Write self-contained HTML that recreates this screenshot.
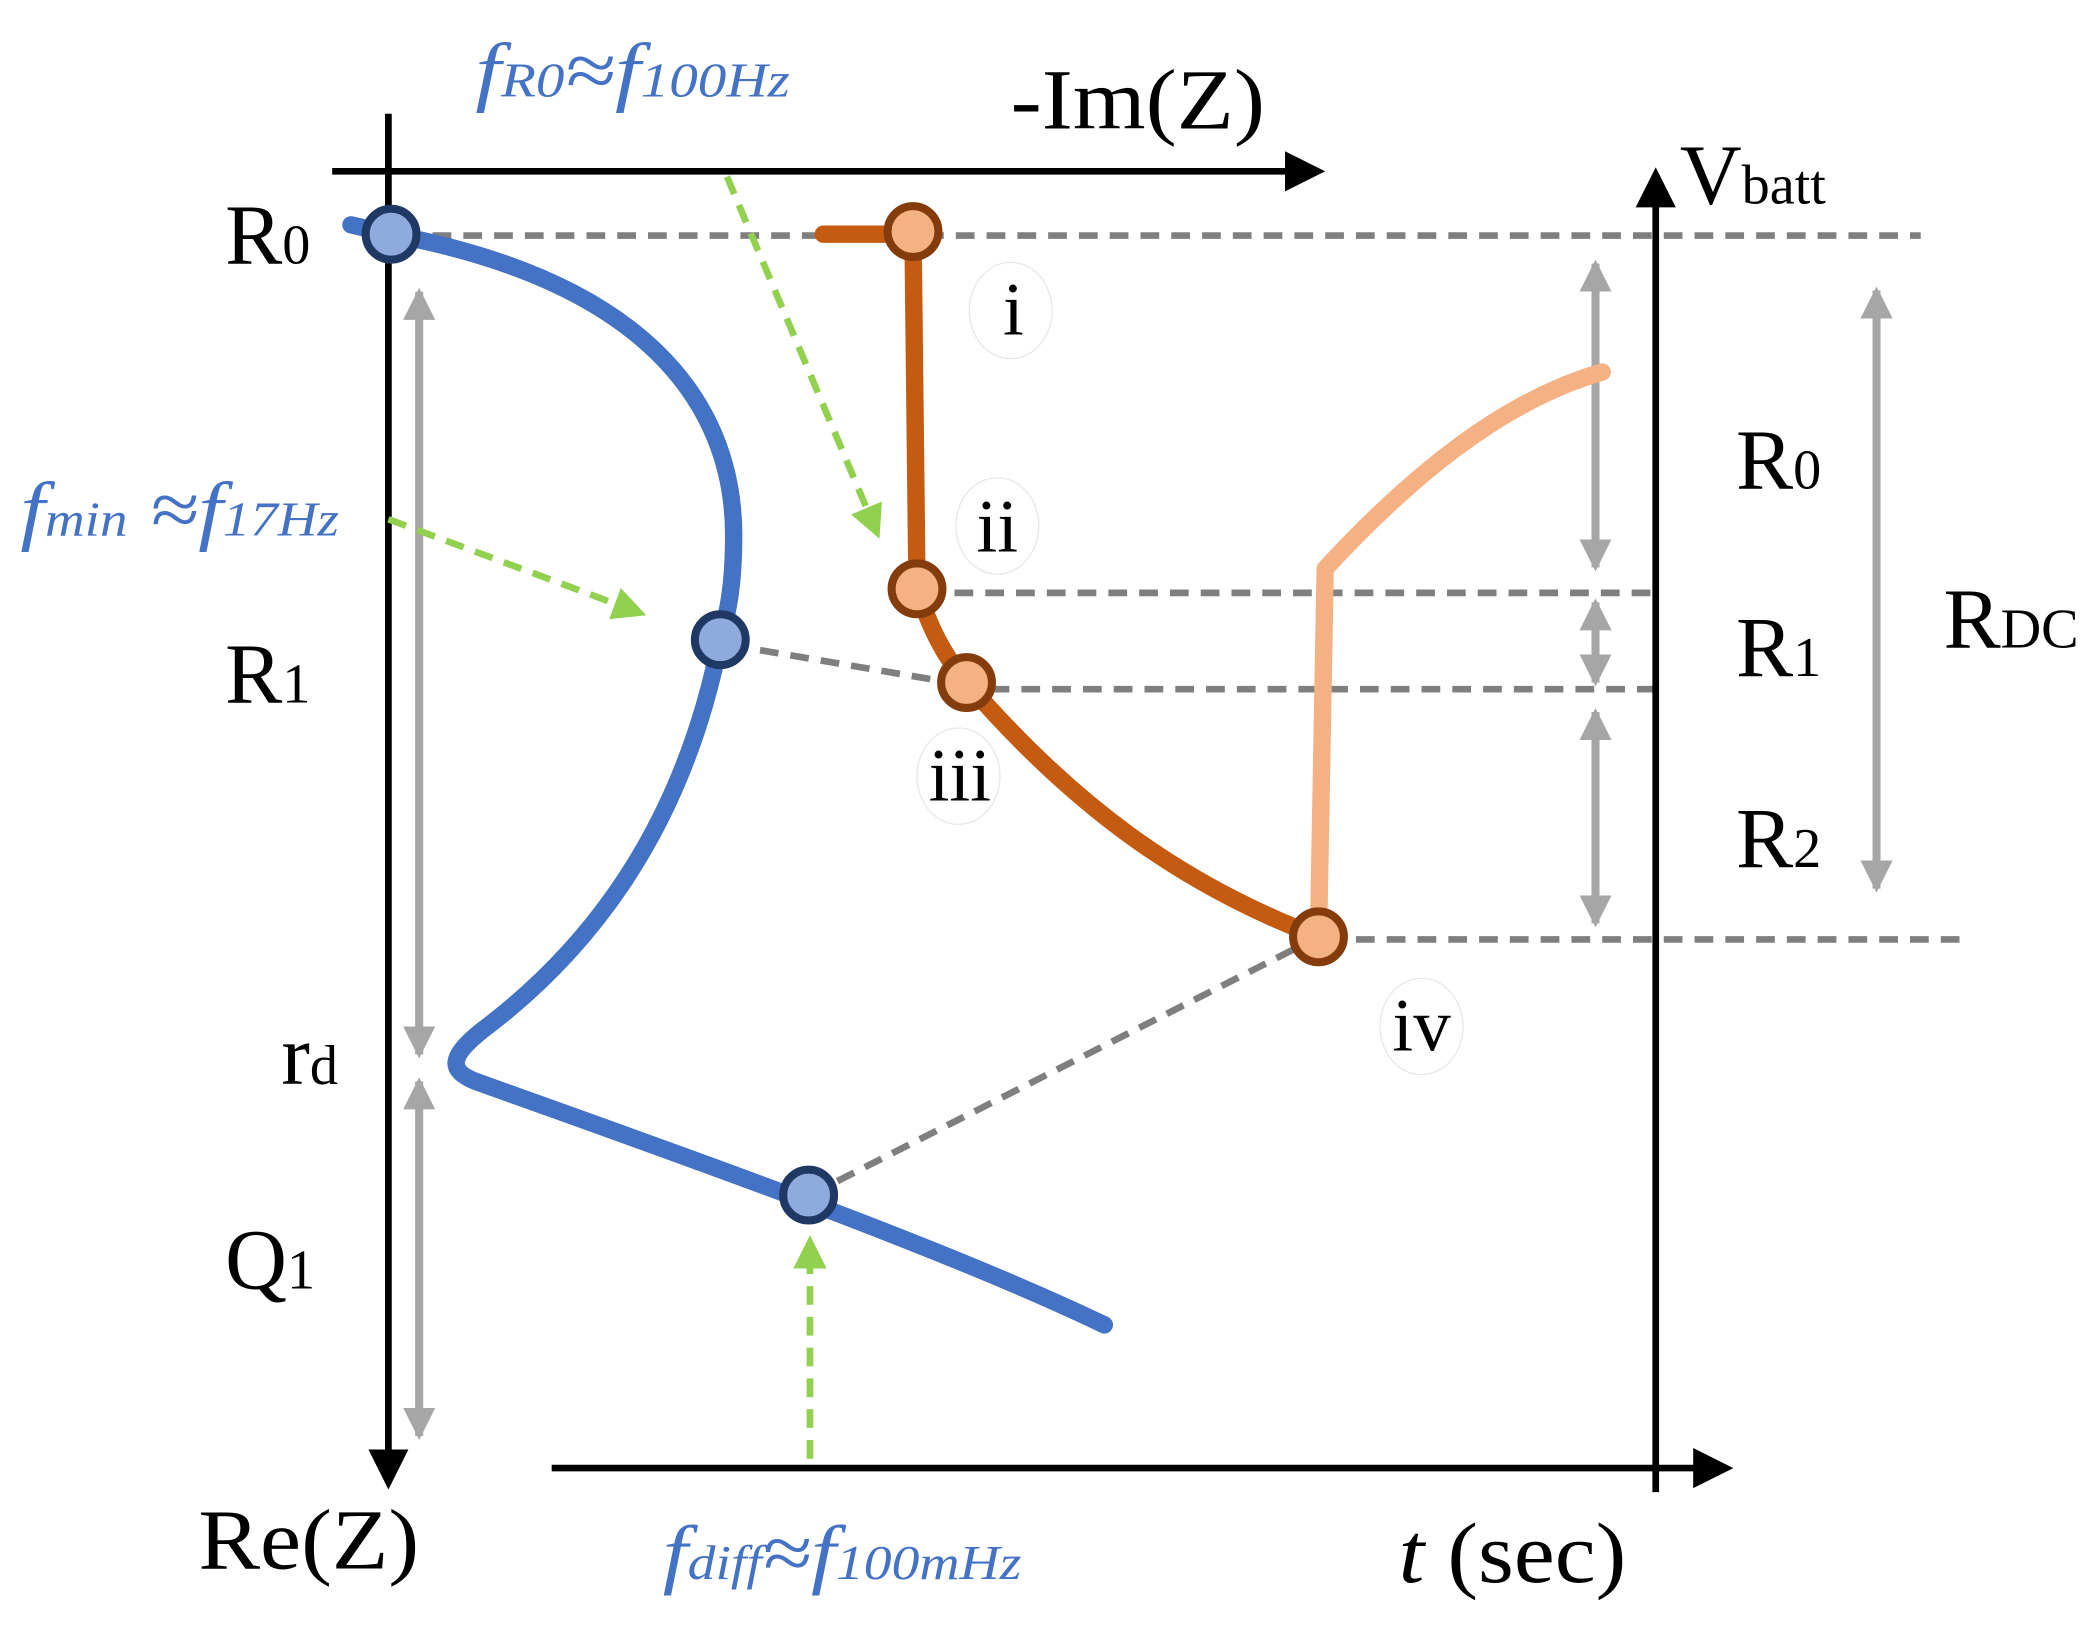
<!DOCTYPE html>
<html><head><meta charset="utf-8"><style>
html,body{margin:0;padding:0;background:#fff;}
svg{display:block;}
text{font-family:"Liberation Serif",serif;}
.bl{fill:#4472c4;font-style:italic;}
</style></head><body>
<svg width="2099" height="1630" viewBox="0 0 1568 1218" xmlns="http://www.w3.org/2000/svg">
<defs>
<marker id="ak" markerWidth="6" markerHeight="6" refX="5" refY="3" orient="auto" markerUnits="strokeWidth"><path d="M0,0 L6,3 L0,6 Z" fill="#000"/></marker>
<marker id="ag" markerWidth="4" markerHeight="4" refX="3.5" refY="2" orient="auto" markerUnits="strokeWidth"><path d="M0,0 L4,2 L0,4 Z" fill="#a6a6a6"/></marker>
<marker id="ags" markerWidth="4" markerHeight="4" refX="0.5" refY="2" orient="auto" markerUnits="strokeWidth"><path d="M4,0 L0,2 L4,4 Z" fill="#a6a6a6"/></marker>
<marker id="agr" markerWidth="5" markerHeight="5" refX="4" refY="2.5" orient="auto" markerUnits="strokeWidth"><path d="M0,0 L5,2.5 L0,5 Z" fill="#92d050"/></marker>
</defs>
<g stroke="#7f7f7f" stroke-width="5" stroke-dasharray="14,9" fill="none">
<line x1="300" y1="176" x2="1435" y2="176"/>
<line x1="690" y1="443" x2="1240" y2="443"/>
<line x1="740" y1="515" x2="1240" y2="515"/>
<line x1="990" y1="702" x2="1465" y2="702"/>
<line x1="545" y1="482" x2="722" y2="512"/>
<line x1="605" y1="893" x2="985" y2="700"/>
</g>
<g stroke="#000" stroke-width="5" fill="none">
<line x1="290" y1="85" x2="290" y2="1108" marker-end="url(#ak)"/>
<line x1="248" y1="128" x2="985" y2="128" marker-end="url(#ak)"/>
<line x1="1237" y1="1115" x2="1237" y2="130" marker-end="url(#ak)"/>
<line x1="412" y1="1097" x2="1290" y2="1097" marker-end="url(#ak)"/>
</g>
<g stroke="#a6a6a6" stroke-width="6" fill="none" marker-start="url(#ags)" marker-end="url(#ag)">
<line x1="313" y1="218" x2="313" y2="788"/>
<line x1="313" y1="808" x2="313" y2="1073"/>
<line x1="1192" y1="197" x2="1192" y2="424"/>
<line x1="1192" y1="450" x2="1192" y2="510"/>
<line x1="1192" y1="532" x2="1192" y2="690"/>
<line x1="1402" y1="217" x2="1402" y2="664"/>
</g>
<path d="M262,168 L292,175 C480,210 548,300 548,400 C548,440 543,460 538,478 C510,620 440,710 360,770 C335,790 335,800 355,808 C500,860 700,930 825,990" stroke="#4472c4" stroke-width="13" fill="none" stroke-linecap="round" stroke-linejoin="round"/>
<path d="M615,175 L682,175 L685,440 C695,470 705,490 722,510 C800,600 880,660 985,700" stroke="#c55a11" stroke-width="13" fill="none" stroke-linecap="round" stroke-linejoin="round"/>
<path d="M985,700 L990,425 C1050,360 1120,300 1197,278" stroke="#f4b183" stroke-width="13" fill="none" stroke-linecap="round" stroke-linejoin="round"/>
<g stroke="#92d050" stroke-width="5" stroke-dasharray="14,9" fill="none" marker-end="url(#agr)">
<line x1="543" y1="132" x2="655" y2="398"/>
<line x1="290" y1="388" x2="478" y2="458"/>
<line x1="605" y1="1090" x2="605" y2="928"/>
</g>
<g stroke="#1f3864" stroke-width="6" fill="#8faadc">
<circle cx="292" cy="175" r="19"/><circle cx="538" cy="478" r="19"/><circle cx="604" cy="893" r="19"/>
</g>
<g stroke="#843c0c" stroke-width="6" fill="#f4b183">
<circle cx="682" cy="173" r="19"/><circle cx="685" cy="440" r="19"/><circle cx="722" cy="510" r="19"/><circle cx="985" cy="700" r="19"/>
</g>
<g fill="#fff" stroke="#e8e8e8" stroke-width="1">
<ellipse cx="755" cy="232" rx="31" ry="36"/><ellipse cx="745" cy="393" rx="31" ry="36"/><ellipse cx="716" cy="580" rx="31" ry="36"/><ellipse cx="1062" cy="767" rx="31" ry="36"/>
</g>
<g font-size="56" fill="#000" text-anchor="middle">
<text x="757" y="250">i</text><text x="745" y="412">ii</text><text x="717" y="598">iii</text><text x="1062" y="785">iv</text>
</g>
<g font-size="64" fill="#000">
<text x="755" y="96" textLength="190" lengthAdjust="spacingAndGlyphs">-Im(Z)</text>
<text x="1255" y="152">V<tspan font-size="42">batt</tspan></text>
<text x="1045" y="1182" textLength="170" lengthAdjust="spacingAndGlyphs"><tspan font-style="italic">t</tspan> (sec)</text>
<text x="148" y="1172" textLength="165" lengthAdjust="spacingAndGlyphs">Re(Z)</text>
<text x="168" y="197">R<tspan font-size="42">0</tspan></text>
<text x="168" y="525">R<tspan font-size="42">1</tspan></text>
<text x="210" y="810">r<tspan font-size="42">d</tspan></text>
<text x="168" y="963">Q<tspan font-size="42">1</tspan></text>
<text x="1297" y="365">R<tspan font-size="42">0</tspan></text>
<text x="1297" y="505">R<tspan font-size="42">1</tspan></text>
<text x="1297" y="648">R<tspan font-size="42">2</tspan></text>
<text x="1452" y="484">R<tspan font-size="42">DC</tspan></text>
</g>
<text class="bl" x="355" y="72" font-size="58" textLength="235" lengthAdjust="spacingAndGlyphs">f<tspan font-size="36">R0</tspan>≈f<tspan font-size="36">100Hz</tspan></text>
<text class="bl" x="15" y="400" font-size="58" textLength="238" lengthAdjust="spacingAndGlyphs">f<tspan font-size="36">min</tspan> ≈f<tspan font-size="36">17Hz</tspan></text>
<text class="bl" x="495" y="1180" font-size="58" textLength="268" lengthAdjust="spacingAndGlyphs">f<tspan font-size="36">diff</tspan>≈f<tspan font-size="36">100mHz</tspan></text>
</svg>
</body></html>
